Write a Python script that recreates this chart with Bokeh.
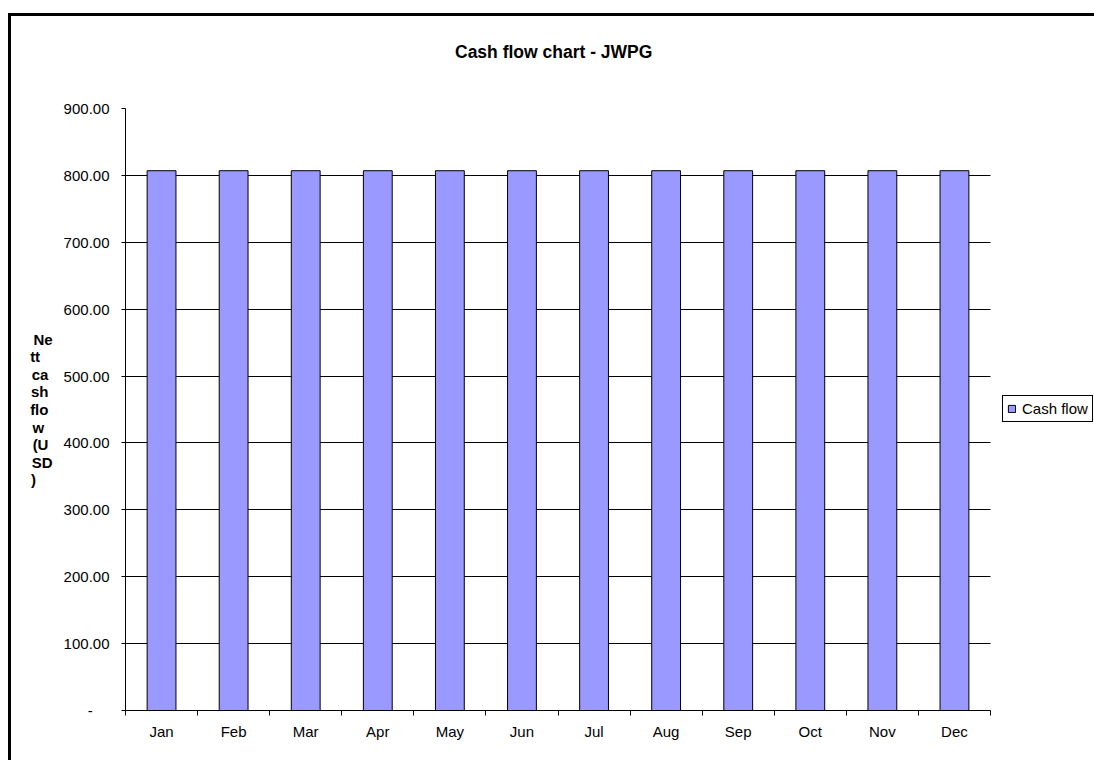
from bokeh.plotting import figure
from bokeh.models import Range1d, FixedTicker, Legend, LegendItem, ColumnDataSource, Div
from bokeh.layouts import column
from bokeh.embed import file_html
from bokeh.resources import INLINE

# ---- data ----
months = ["Jan", "Feb", "Mar", "Apr", "May", "Jun", "Jul", "Aug", "Sep", "Oct", "Nov", "Dec"]
cash_flow = [807.0, 807.0, 807.0, 807.0, 807.0, 807.0, 807.0, 807.0, 807.0, 807.0, 807.0, 807.0]
y_ticks = [0, 100, 200, 300, 400, 500, 600, 700, 800, 900]
y_tick_labels = ["-\u00a0\u00a0\u00a0\u00a0", "100.00", "200.00", "300.00", "400.00",
                 "500.00", "600.00", "700.00", "800.00", "900.00"]
y_label_lines = ["Ne", "tt", "ca", "sh", "flo", "w", "(U", "SD", ")"]
title_text = "Cash flow chart - JWPG"
series_name = "Cash flow"

FONT = "Liberation Sans"
BAR_COLOR = "#9999FF"
W = 1083
TITLE_H = 80
H = 744 - TITLE_H
LEFT = 114            # room for the value axis
PLOT_W = 865          # pixel width of the category area

n = len(months)
x_pos = [i + 0.5 for i in range(n)]
source = ColumnDataSource(dict(x=x_pos, month=months, top=cash_flow))

# chart title as a text block above the plot
title_div = Div(
    text=('<div style="padding-left:444px; padding-top:26px; white-space:nowrap; '
          'font-family:\'Liberation Sans\'; font-size:17.5px; font-weight:bold; '
          'line-height:20px; color:black;">' + title_text + '</div>'),
    width=W, height=TITLE_H, margin=0)

# the frame runs to the right edge so that the legend can sit beside the bars
x_end = n * (W - LEFT) / PLOT_W

p = figure(width=W, height=H,
           x_range=Range1d(0, x_end), y_range=Range1d(0, 900),
           output_backend="svg", toolbar_location=None,
           min_border_left=LEFT, min_border_right=0,
           min_border_top=12, min_border_bottom=50)

p.outline_line_color = None
p.background_fill_color = "white"
p.border_fill_color = "white"

# bars
r = p.vbar(x="x", top="top", width=0.4, bottom=0, source=source,
           fill_color=BAR_COLOR, line_color="black", line_width=1)

# grid (only across the category area)
p.xgrid.visible = False
p.ygrid.ticker = FixedTicker(ticks=y_ticks)
p.ygrid.cross_bounds = (0, n)
p.ygrid.grid_line_color = "black"
p.ygrid.grid_line_width = 1
p.ygrid.grid_line_alpha = 1.0

# y axis
yax = p.yaxis[0]
yax.ticker = FixedTicker(ticks=y_ticks)
yax.major_label_overrides = {t: l for t, l in zip(y_ticks, y_tick_labels)}
yax.major_tick_out = 4
yax.major_tick_in = 0
yax.minor_tick_out = 0
yax.minor_tick_in = 0
yax.axis_line_color = "black"
yax.major_tick_line_color = "black"
yax.major_label_standoff = 12
yax.major_label_text_font = FONT
yax.major_label_text_font_size = "15px"
yax.major_label_text_color = "black"

# wrapped axis title; non-breaking spaces even out the line widths so the
# centred block reads as left aligned
pad = {"tt": 3, "ca": 1, "sh": 1, "flo": 1, "w": 2, "(U": 1, ")": 4}
yax.axis_label = "\n".join(s + "\u00a0" * pad.get(s, 0) for s in y_label_lines)
yax.axis_label_orientation = "horizontal"
yax.axis_label_standoff = 8
yax.axis_label_text_font = FONT
yax.axis_label_text_font_size = "15px"
yax.axis_label_text_font_style = "bold"
yax.axis_label_text_color = "black"
yax.axis_label_text_line_height = 1.03

# x axis (ticks at category boundaries, labels at centers)
xax = p.xaxis[0]
xax.bounds = (0, n)
xax.ticker = FixedTicker(ticks=x_pos, minor_ticks=list(range(n + 1)))
xax.major_label_overrides = {x: m for x, m in zip(x_pos, months)}
xax.major_tick_out = 0
xax.major_tick_in = 0
xax.minor_tick_out = 5
xax.minor_tick_in = 0
xax.minor_tick_line_color = "black"
xax.axis_line_color = "black"
xax.major_label_standoff = 7
xax.major_label_text_font = FONT
xax.major_label_text_font_size = "15px"
xax.major_label_text_color = "black"

# legend, right of the category area
legend = Legend(items=[LegendItem(label=series_name, renderers=[r])], location=(877, 288))
legend.margin = 0
legend.padding = 4
legend.spacing = 0
legend.glyph_width = 9
legend.glyph_height = 9
legend.label_standoff = 6
legend.label_height = 16
legend.label_text_font = FONT
legend.label_text_font_size = "15px"
legend.label_text_color = "black"
legend.border_line_color = "black"
legend.border_line_width = 1
legend.border_line_alpha = 1.0
legend.background_fill_color = "white"
legend.background_fill_alpha = 1.0
p.add_layout(legend, "center")

# outer chart border (only its top and left edges fall inside the window)
layout = column(title_div, p, spacing=0,
                styles={"border-left": "3px solid black", "border-top": "3px solid black",
                        "margin-left": "8px", "margin-top": "13px"})

open("out.html", "w").write(file_html(layout, INLINE))
